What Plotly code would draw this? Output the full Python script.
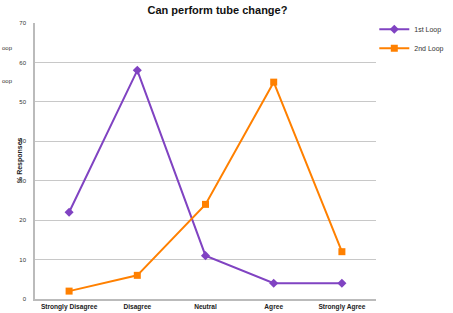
import plotly.graph_objects as go

categories = ["Strongly Disagree", "Disagree", "Neutral", "Agree", "Strongly Agree"]
loop1 = [22, 58, 11, 4, 4]
loop2 = [2, 6, 24, 55, 12]
y_ticks = [0, 10, 20, 30, 40, 50, 60, 70]

fig = go.Figure()
fig.add_trace(go.Scatter(x=categories, y=loop1, name="1st Loop", mode="lines+markers",
                         line=dict(color="#8043C2", width=2),
                         marker=dict(symbol="diamond", size=7, color="#8043C2")))
fig.add_trace(go.Scatter(x=categories, y=loop2, name="2nd Loop", mode="lines+markers",
                         line=dict(color="#FF8000", width=2),
                         marker=dict(symbol="square", size=7, color="#FF8000")))

fig.update_layout(
    width=453, height=313,
    margin=dict(l=35, r=77, t=23, b=14, autoexpand=False),
    paper_bgcolor="white", plot_bgcolor="white",
    font=dict(family="Liberation Sans, Arial, sans-serif", color="#333"),
    title=dict(text="<b>Can perform tube change?</b>", x=0.48, xanchor="center",
               yref="container", y=0.968, yanchor="middle",
               font=dict(size=11, color="#111")),
    showlegend=True,
    legend=dict(x=0.995, y=1.03, xanchor="left", yanchor="top",
                font=dict(size=7, color="#333"), bgcolor="rgba(0,0,0,0)",
                itemwidth=30, tracegroupgap=0),
    xaxis=dict(type="category", range=[-0.5, 4.5], showgrid=False,
               showline=True, linecolor="#bbb", linewidth=1.5, ticks="",
               tickfont=dict(size=6.6, color="#222", family="Liberation Sans, Arial"),
               tickprefix="<b>", ticksuffix="</b>", ticklabelstandoff=0),
    yaxis=dict(range=[0, 70], tickvals=y_ticks, showgrid=True, gridcolor="#c8c8c8",
               gridwidth=1, showline=True, linecolor="#bbb", linewidth=1.5,
               zeroline=False, ticks="", tickfont=dict(size=6, color="#333"),
               ticklabelstandoff=6),
)

fig.add_annotation(xref="paper", yref="paper", x=(20 - 35) / 341, y=(299 - 160) / 276,
                   text="<b>% Responses</b>", showarrow=False, textangle=-90,
                   xanchor="center", yanchor="middle",
                   font=dict(size=7, color="#222"))
fig.add_annotation(xref="paper", yref="paper", x=-0.1026, y=(299 - 43) / 276,
                   text="oop", showarrow=False, xanchor="left",
                   font=dict(size=6, color="#333"))
fig.add_annotation(xref="paper", yref="paper", x=-0.1026, y=(299 - 76) / 276,
                   text="oop", showarrow=False, xanchor="left",
                   font=dict(size=6, color="#333"))

fig.write_html("out.html", config={"displayModeBar": False},
               post_script="document.body.style.margin='0';document.body.style.overflow='hidden';")
